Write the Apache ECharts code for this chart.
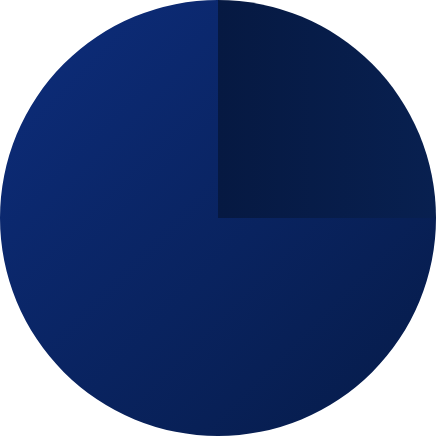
<!DOCTYPE html>
<html><head><meta charset="utf-8">
<script src="https://cdn.jsdelivr.net/npm/echarts@6/dist/echarts.min.js"></script>
<style>html,body{margin:0;padding:0;background:#fff}#c{width:436px;height:436px}</style>
</head><body><div id="c"></div>
<script>
const categories = ['A', 'B'];
const values = [25, 75];
const chart = echarts.init(document.getElementById('c'));
const styles = [
  {color: new echarts.graphic.LinearGradient(0,0,1,0,[{offset:0,color:'#061942'},{offset:1,color:'#082050'}])},
  {color: new echarts.graphic.LinearGradient(0,0,1,1,[{offset:0,color:'#0d2d7c'},{offset:1,color:'#061b48'}])}
];
chart.setOption({
  animation:false,
  series:[{
    type:'pie',
    center:['50%','50%'],
    radius:['0%','100%'],
    startAngle:90,
    label:{show:false},
    labelLine:{show:false},
    itemStyle:{borderWidth:0},
    data: categories.map((n,i)=>({name:n,value:values[i],itemStyle:styles[i]}))
  }]
});
</script></body></html>
